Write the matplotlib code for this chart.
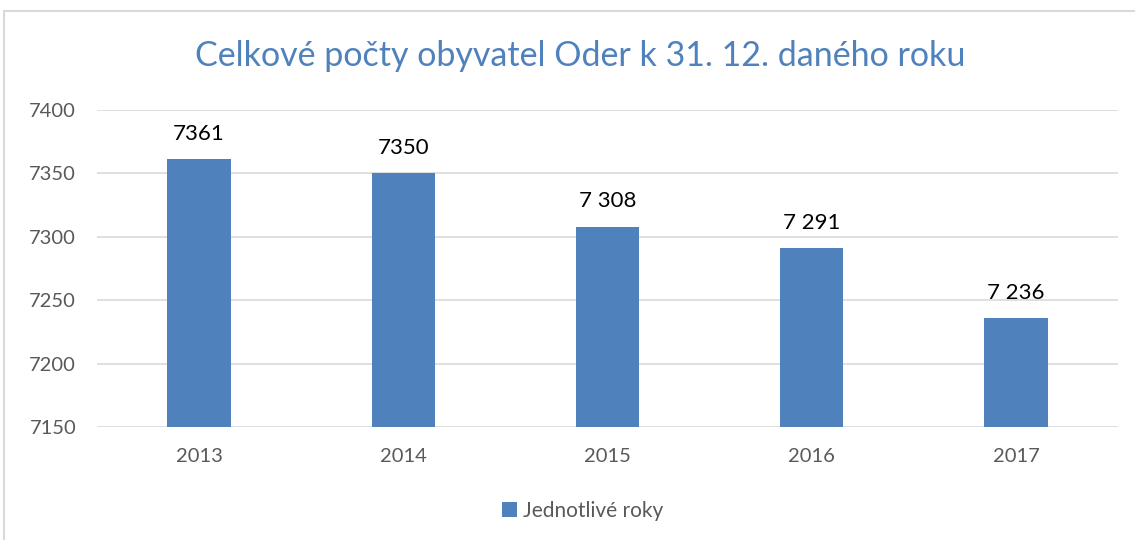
import matplotlib.pyplot as plt
from matplotlib.patches import Rectangle

# data
years = ["2013", "2014", "2015", "2016", "2017"]
population = [7361, 7350, 7308, 7291, 7236]
value_labels = ["7361", "7350", "7 308", "7 291", "7 236"]

plt.rcParams['font.family'] = ['Lato', 'DejaVu Sans']

W, H = 1135, 540
fig = plt.figure(figsize=(W / 100, H / 100), dpi=100)

# chart frame (light gray border, as in the Excel chart)
fig.patches.append(Rectangle((4 / W, -0.2), 1.2, 1.2 - 11 / H, transform=fig.transFigure,
                             fill=False, edgecolor="#d9d9d9", linewidth=1.5))

ax = fig.add_axes([97 / W, 1 - 427 / H, (1118 - 97) / W, (427 - 110) / H])
x = range(len(years))
bars = ax.bar(x, population, width=0.31, color="#4F81BD", zorder=2,
              label="Jednotlivé roky")
ax.set_ylim(7150, 7400)
ax.set_xlim(-0.5, len(years) - 0.5)
ax.set_yticks(range(7150, 7401, 50))
ax.set_xticks(list(x))
ax.set_xticklabels(years)

for b, lab in zip(bars, value_labels):
    ax.text(b.get_x() + b.get_width() / 2, b.get_height() + 12, lab,
            ha="center", va="bottom", fontsize=16, color="black")

ax.grid(axis="y", color="#d9d9d9", linewidth=1.2, zorder=0)
for s in ax.spines.values():
    s.set_visible(False)
ax.tick_params(length=0, labelsize=14.5, labelcolor="#595959")
ax.tick_params(axis="x", pad=15)
ax.tick_params(axis="y", pad=15)

fig.text(580 / W, 1 - 56 / H, "Celkové počty obyvatel Oder k 31. 12. daného roku",
         ha="center", va="center", fontsize=24.5, color="#4F81BD")

fig.legend(loc="center", bbox_to_anchor=(583 / W, 1 - 511 / H), frameon=False,
           fontsize=15, handlelength=0.7, handleheight=0.7, handletextpad=0.3,
           labelcolor="#595959")

fig.savefig("out.png", dpi=100)
